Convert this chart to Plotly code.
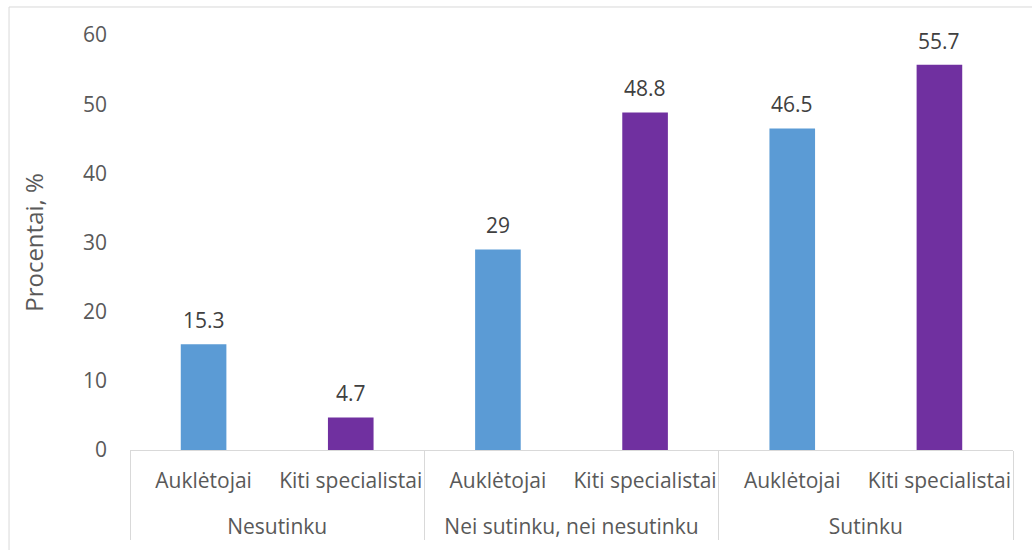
import plotly.graph_objects as go

group_names = ["Nesutinku", "Nei sutinku, nei nesutinku", "Sutinku"]
categories = ["Auklėtojai", "Kiti specialistai"] * 3
values = [15.3, 4.7, 29, 48.8, 46.5, 55.7]
labels = ["15.3", "4.7", "29", "48.8", "46.5", "55.7"]
colors = ["#5B9BD5", "#7030A0"] * 3

# group label per bar (leading line break only adds spacing under the category row)
groups = [("<br>" + g) for g in group_names for _ in range(2)]

FONT = "'Open Sans', Lato, sans-serif"
GRAY = "#595959"
FS = 21

fig = go.Figure()
fig.add_trace(go.Bar(
    x=[groups, categories],
    y=values,
    marker=dict(color=colors, line=dict(width=0)),
    width=0.31,
    showlegend=False,
    hoverinfo="y",
))

annotations = []
for i, (v, t) in enumerate(zip(values, labels)):
    annotations.append(dict(
        x=i, y=v, xref="x", yref="y", text=t, showarrow=False,
        yanchor="middle", yshift=24,
        font=dict(family=FONT, size=FS, color="#404040"),
    ))

fig.update_layout(
    width=1032, height=550,
    margin=dict(l=130, r=19, t=35, b=100),
    paper_bgcolor="white",
    plot_bgcolor="white",
    font=dict(family=FONT, size=FS, color=GRAY),
    xaxis=dict(
        type="multicategory",
        showline=True, linecolor="#D9D9D9", linewidth=1,
        showgrid=False, ticks="",
        tickangle=0,
        ticklabelstandoff=12,
        showdividers=True, dividercolor="#D9D9D9", dividerwidth=1,
        tickfont=dict(family=FONT, size=FS, color=GRAY),
    ),
    yaxis=dict(
        range=[0, 60], dtick=10,
        showgrid=False, showline=False, zeroline=False,
        ticks="", ticklabelstandoff=22,
        tickfont=dict(family=FONT, size=FS, color=GRAY),
        title=dict(text="Procentai, %", font=dict(family=FONT, size=24, color=GRAY), standoff=32),
    ),
    annotations=annotations,
    shapes=[dict(
        type="rect", xref="paper", yref="paper",
        x0=-0.137, x1=1.03, y0=-0.3, y1=1.0675,
        line=dict(color="#D9D9D9", width=1), layer="below",
    )],
)

fig.write_html("out.html")
